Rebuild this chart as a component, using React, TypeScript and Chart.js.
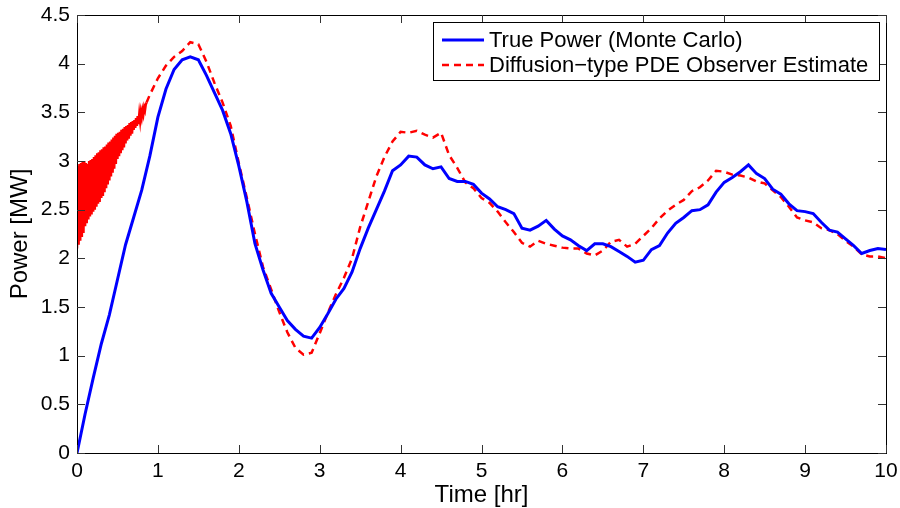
import React, { useEffect, useRef } from "react";
import { Chart, registerables } from "chart.js";

Chart.register(...registerables);

const timeHr = [
  0, 0.1, 0.2, 0.3, 0.4, 0.5, 0.6, 0.7, 0.8, 0.9,
  1, 1.1, 1.2, 1.3, 1.4, 1.5, 1.6, 1.7, 1.8, 1.9,
  2, 2.1, 2.2, 2.3, 2.4, 2.5, 2.6, 2.7, 2.8, 2.9,
  3, 3.1, 3.2, 3.3, 3.4, 3.5, 3.6, 3.7, 3.8, 3.9,
  4, 4.1, 4.2, 4.3, 4.4, 4.5, 4.6, 4.7, 4.8, 4.9,
  5, 5.1, 5.2, 5.3, 5.4, 5.5, 5.6, 5.7, 5.8, 5.9,
  6, 6.1, 6.2, 6.3, 6.4, 6.5, 6.6, 6.7, 6.8, 6.9,
  7, 7.1, 7.2, 7.3, 7.4, 7.5, 7.6, 7.7, 7.8, 7.9,
  8, 8.1, 8.2, 8.3, 8.4, 8.5, 8.6, 8.7, 8.8, 8.9,
  9, 9.1, 9.2, 9.3, 9.4, 9.5, 9.6, 9.7, 9.8, 9.9, 10,
];

const truePowerMW = [
  0, 0.4, 0.77, 1.12, 1.42, 1.78, 2.14, 2.42, 2.7, 3.05,
  3.45, 3.74, 3.94, 4.04, 4.07, 4.04, 3.88, 3.7, 3.52, 3.28,
  2.95, 2.58, 2.15, 1.88, 1.64, 1.5, 1.36, 1.27, 1.2, 1.18,
  1.29, 1.43, 1.58, 1.69, 1.86, 2.1, 2.31, 2.5, 2.69, 2.9,
  2.96, 3.05, 3.04, 2.96, 2.92, 2.94, 2.82, 2.79, 2.79, 2.76,
  2.67, 2.61, 2.53, 2.5, 2.46, 2.31, 2.29, 2.33, 2.39, 2.3,
  2.23, 2.19, 2.13, 2.08, 2.15, 2.15, 2.12, 2.07, 2.02, 1.96,
  1.98, 2.09, 2.13, 2.26, 2.36, 2.42, 2.49, 2.5, 2.55, 2.68,
  2.78, 2.83, 2.89, 2.96, 2.87, 2.82, 2.71, 2.66, 2.56, 2.49,
  2.48, 2.46, 2.37, 2.29, 2.27, 2.2, 2.13, 2.05, 2.08, 2.1, 2.09,
];

// observer estimate: fast start-up oscillation (0 - 0.86 hr)
const observerStartTimeHr = [
  0, 0.01, 0.02, 0.03, 0.04, 0.05, 0.06, 0.07, 0.08, 0.09,
  0.1, 0.11, 0.12, 0.13, 0.14, 0.15, 0.16, 0.17, 0.18, 0.19,
  0.2, 0.21, 0.22, 0.23, 0.24, 0.25, 0.26, 0.27, 0.28, 0.29,
  0.3, 0.31, 0.32, 0.33, 0.34, 0.35, 0.36, 0.37, 0.38, 0.39,
  0.4, 0.41, 0.42, 0.43, 0.44, 0.45, 0.46, 0.47, 0.48, 0.49,
  0.5, 0.51, 0.52, 0.53, 0.54, 0.55, 0.56, 0.57, 0.58, 0.59,
  0.6, 0.61, 0.62, 0.63, 0.64, 0.65, 0.66, 0.67, 0.68, 0.69,
  0.7, 0.71, 0.72, 0.73, 0.74, 0.75, 0.76, 0.77, 0.78, 0.79,
  0.8, 0.81, 0.82, 0.83, 0.84, 0.85, 0.86,
];
const observerStartMW = [
  2.1, 2.95, 2.14, 2.97, 2.18, 2.98, 2.22, 2.99, 2.26, 3.0,
  2.33, 2.98, 2.36, 2.97, 2.4, 3.0, 2.43, 3.01, 2.45, 3.02,
  2.48, 3.04, 2.5, 3.06, 2.53, 3.08, 2.56, 3.09, 2.58, 3.11,
  2.62, 3.12, 2.64, 3.14, 2.68, 3.15, 2.72, 3.17, 2.76, 3.19,
  2.8, 3.2, 2.84, 3.22, 2.88, 3.24, 2.92, 3.26, 2.97, 3.28,
  3.02, 3.29, 3.05, 3.3, 3.08, 3.32, 3.11, 3.33, 3.14, 3.35,
  3.18, 3.36, 3.21, 3.37, 3.23, 3.39, 3.26, 3.4, 3.28, 3.41,
  3.32, 3.42, 3.34, 3.44, 3.36, 3.46, 3.38, 3.48, 3.41, 3.5,
  3.45, 3.52, 3.48, 3.55, 3.52, 3.58, 3.6,
];
// observer estimate from 0.9 hr to 10 hr (on timeHr grid)
const observerMW = [
  3.68, 3.85, 3.98, 4.07, 4.13, 4.22, 4.2, 4.02, 3.8, 3.6, 3.36,
  2.98, 2.62, 2.25, 1.91, 1.68, 1.45, 1.24, 1.08, 1.01, 1.03,
  1.23, 1.44, 1.63, 1.8, 2.0, 2.32, 2.58, 2.84, 3.04, 3.2,
  3.3, 3.29, 3.31, 3.27, 3.24, 3.29, 3.06, 2.93, 2.78, 2.72,
  2.62, 2.57, 2.48, 2.37, 2.27, 2.16, 2.12, 2.18, 2.15, 2.13,
  2.11, 2.1, 2.1, 2.05, 2.03, 2.08, 2.17, 2.19, 2.12, 2.15,
  2.23, 2.31, 2.41, 2.49, 2.55, 2.6, 2.69, 2.73, 2.8, 2.9,
  2.89, 2.86, 2.85, 2.83, 2.79, 2.77, 2.7, 2.63, 2.53, 2.42,
  2.39, 2.37, 2.31, 2.29, 2.25, 2.18, 2.12, 2.04, 2.02, 2.02, 2.0,
];

const xTicks = [0, 1, 2, 3, 4, 5, 6, 7, 8, 9, 10];
const yTicks = [0, 0.5, 1, 1.5, 2, 2.5, 3, 3.5, 4, 4.5];
const seriesLabels = ["True Power (Monte Carlo)", "Diffusion\u2212type PDE Observer Estimate"];

const FONT = "'Liberation Sans', Arial, Helvetica, sans-serif";
const RED_DASH = [7, 5];

const framePlugin = {
  id: "matlabFrame",
  afterDatasetsDraw(chart: any) {
    const { ctx, chartArea } = chart;
    const { left, right, top, bottom } = chartArea;
    const xs = chart.scales.x;
    const ys = chart.scales.y;
    ctx.save();
    ctx.strokeStyle = "#000";
    ctx.lineWidth = 1;
    ctx.setLineDash([]);
    ctx.strokeRect(Math.round(left) + 0.5, Math.round(top) + 0.5, Math.round(right - left), Math.round(bottom - top));
    const tl = 8;
    ctx.strokeStyle = "#333";
    ctx.beginPath();
    xTicks.forEach((v) => {
      const px = Math.round(xs.getPixelForValue(v)) + 0.5;
      ctx.moveTo(px, bottom);
      ctx.lineTo(px, bottom - tl);
      ctx.moveTo(px, top);
      ctx.lineTo(px, top + tl);
    });
    yTicks.forEach((v) => {
      const py = Math.round(ys.getPixelForValue(v)) + 0.5;
      ctx.moveTo(left, py);
      ctx.lineTo(left + tl, py);
      ctx.moveTo(right, py);
      ctx.lineTo(right - tl, py);
    });
    ctx.stroke();

    // legend
    const bx = 433.5, by = 22.5, bw = 446, bh = 58;
    ctx.fillStyle = "#fff";
    ctx.fillRect(bx, by, bw, bh);
    ctx.strokeStyle = "#000";
    ctx.lineWidth = 1;
    ctx.strokeRect(bx, by, bw, bh);
    const rows = [40, 65];
    const dashes = [[], RED_DASH];
    chart.data.datasets.forEach((ds: any, i: number) => {
      const y = rows[i];
      ctx.beginPath();
      ctx.strokeStyle = ds.borderColor;
      ctx.lineWidth = ds.borderWidth;
      ctx.setLineDash(dashes[i]);
      ctx.moveTo(442, y);
      ctx.lineTo(484, y);
      ctx.stroke();
      ctx.setLineDash([]);
      ctx.fillStyle = "#000";
      ctx.font = `22px ${FONT}`;
      ctx.textBaseline = "middle";
      ctx.textAlign = "left";
      ctx.fillText(ds.label, 489, y + 1);
    });
    ctx.restore();
  },
};

const noLabelPadding = (s: any) => {
  s.paddingTop = 0;
  s.paddingBottom = 0;
  s.paddingLeft = 0;
  s.paddingRight = 0;
};

export default function App() {
  const ref = useRef<HTMLCanvasElement | null>(null);
  useEffect(() => {
    if (!ref.current) return;
    const blue = timeHr.map((t, i) => ({ x: t, y: truePowerMW[i] }));
    const red = observerStartTimeHr
      .map((t, i) => ({ x: t, y: observerStartMW[i] }))
      .concat(timeHr.slice(9).map((t, i) => ({ x: t, y: observerMW[i] })));
    const oscEnd = observerStartTimeHr[observerStartTimeHr.length - 1];
    const chart = new Chart(ref.current, {
      type: "line",
      data: {
        datasets: [
          {
            label: seriesLabels[0],
            data: blue,
            borderColor: "#0000ff",
            borderWidth: 3,
            pointRadius: 0,
            tension: 0,
            fill: false,
          },
          {
            label: seriesLabels[1],
            data: red,
            borderColor: "#ff0000",
            borderWidth: 2.5,
            borderDash: RED_DASH,
            segment: {
              borderDash: (c: any) => (c.p1.parsed.x <= oscEnd ? [] : RED_DASH),
            },
            pointRadius: 0,
            tension: 0,
            fill: false,
          },
        ],
      },
      options: {
        responsive: false,
        animation: false,
        events: [],
        layout: { padding: { left: 0, right: 14, top: 15, bottom: 0 } },
        plugins: { legend: { display: false }, tooltip: { enabled: false } },
        scales: {
          x: {
            type: "linear",
            min: 0,
            max: 10,
            afterFit: (s: any) => {
              s.height = 55;
              noLabelPadding(s);
            },
            afterBuildTicks: (s: any) => {
              s.ticks = xTicks.map((v) => ({ value: v }));
            },
            grid: { display: false, drawTicks: false },
            border: { display: false },
            ticks: {
              color: "#000",
              padding: 6,
              maxRotation: 0,
              autoSkip: false,
              font: { family: FONT, size: 21, lineHeight: 1.2 },
              callback: (v: any) => String(v),
            },
            title: {
              display: true,
              text: "Time [hr]",
              color: "#000",
              padding: { top: 0, bottom: -2 },
              font: { family: FONT, size: 24, lineHeight: 1.2 },
            },
          },
          y: {
            type: "linear",
            min: 0,
            max: 4.5,
            afterFit: (s: any) => {
              s.width = 77;
              noLabelPadding(s);
            },
            afterBuildTicks: (s: any) => {
              s.ticks = yTicks.map((v) => ({ value: v }));
            },
            grid: { display: false, drawTicks: false },
            border: { display: false },
            ticks: {
              color: "#000",
              padding: 7,
              autoSkip: false,
              font: { family: FONT, size: 21, lineHeight: 1.2 },
              callback: (v: any) => String(v),
            },
            title: {
              display: true,
              text: "Power [MW]",
              color: "#000",
              padding: { top: 6, bottom: 0 },
              font: { family: FONT, size: 24, lineHeight: 1.2 },
            },
          },
        },
      },
      plugins: [framePlugin],
    });
    return () => chart.destroy();
  }, []);
  return (
    <div style={{ position: "fixed", left: 0, top: 0, width: 900, height: 508, background: "#fff" }}>
      <canvas ref={ref} width={900} height={508} />
    </div>
  );
}
